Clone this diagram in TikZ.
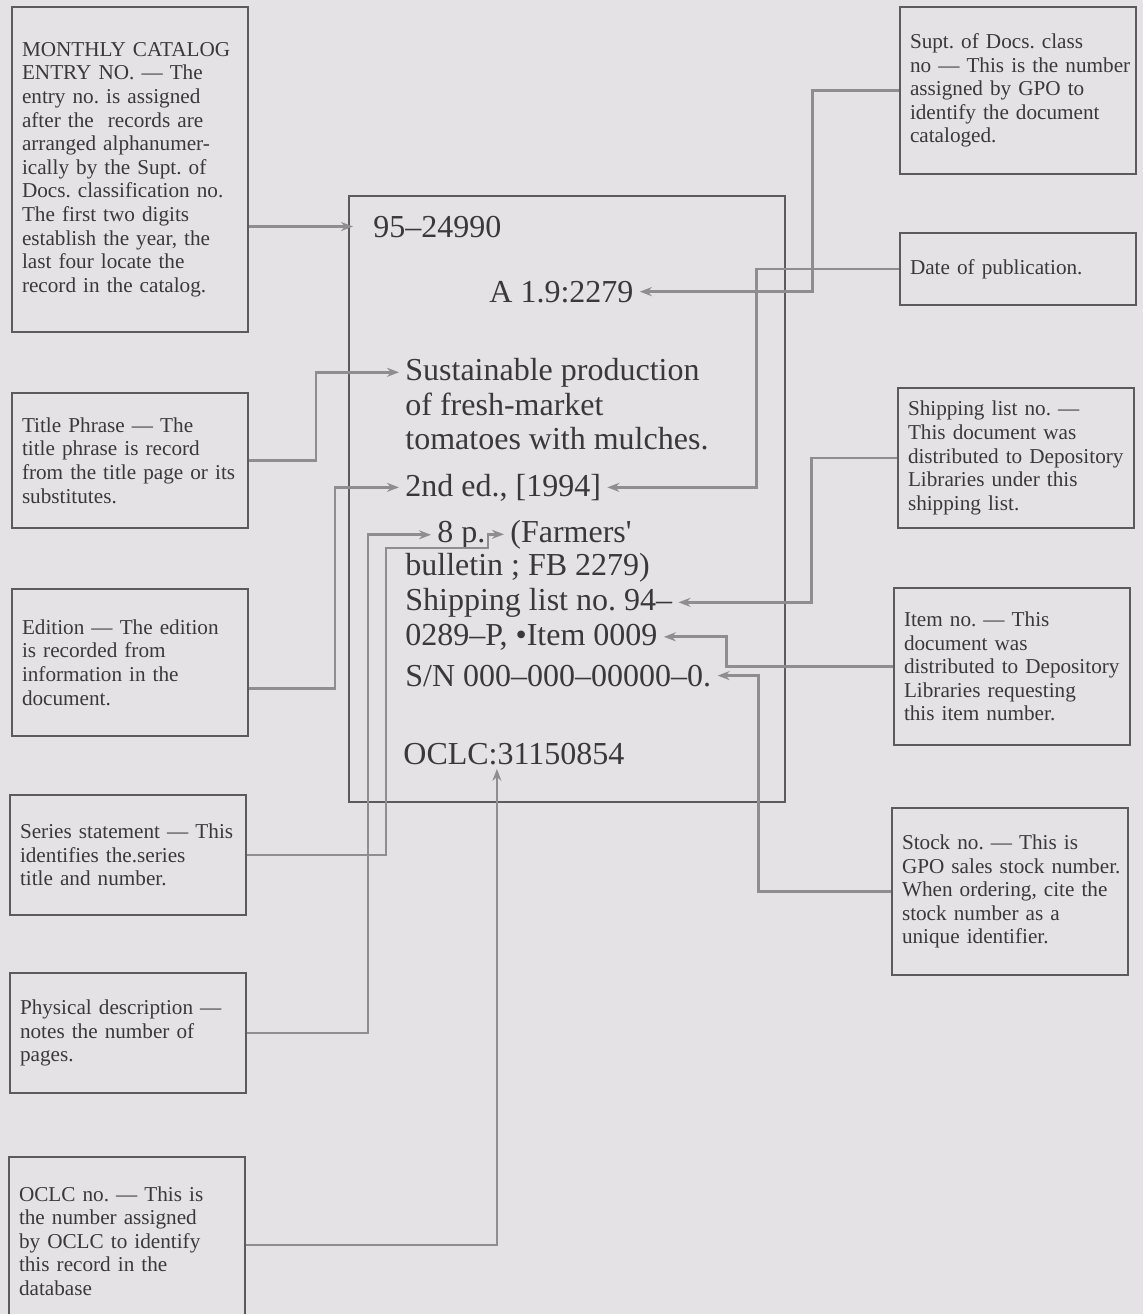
\documentclass[tikz,border=0pt]{standalone}
\usepackage{fontspec}
\setmainfont{Liberation Serif}
\usepackage{tikz}
\usetikzlibrary{arrows.meta,positioning,calc}
\definecolor{paper}   {HTML}{E4E2E5}
\definecolor{ink}     {HTML}{3A383B}
\definecolor{boxline} {HTML}{5C5A5E}
\definecolor{leadgrey}{HTML}{8F8D91}
\newcommand{\notefont}{\fontsize{10.6}{11.8}\selectfont\hyphenpenalty=10000}
\newcommand{\entryfont}{\fontsize{16}{19}\selectfont}
\frenchspacing
\tikzset{
  notebox/.style  ={draw=boxline, line width=0.9pt, text=ink, font=\notefont,
                    align=left, text width=114pt, inner xsep=2pt, inner ysep=3pt,
                    execute at begin node={\leftskip=3pt}},
  recordbox/.style={draw=boxline, line width=0.9pt,
                    minimum width=218pt, minimum height=303pt, inner sep=0pt},
  entrytext/.style={text=ink, font=\entryfont, anchor=base west,
                    inner xsep=3pt, inner ysep=2pt},
  leadarr/.style  ={-{Stealth[length=6pt,width=4.5pt]}, line width=1.4pt, color=leadgrey},
}

\begin{document}
\begin{tikzpicture}[x=0.5pt,y=-0.5pt]
    \useasboundingbox (0,0) rectangle (1143,1314);
    \fill[paper] (0,0) rectangle (1143,1314);

    \node[notebox,minimum height=162.5pt] (mce) at (130,169.5) {MONTHLY CATALOG\\ENTRY NO. --- The\\entry no. is assigned\\after the\ \ records are\\arranged alphanumer-\\ically by the Supt. of\\Docs. classification no.\\The first two digits\\establish the year, the\\last four locate the\\record in the catalog.};
    \node[notebox,minimum height=67.5pt] (title) at (130,460.5) {Title Phrase --- The\\title phrase is record\\from the title page or its\\substitutes.};
    \node[notebox,minimum height=73.5pt] (edition) at (130,662.5) {Edition --- The edition\\is recorded from\\information in the\\document.};
    \node[notebox,minimum height=60pt] (series) at (128,855) {Series statement --- This\\identifies the.series\\title and number.};
    \node[notebox,minimum height=60pt] (physical) at (128,1033) {Physical description ---\\notes the number of\\pages.};
    \node[notebox,minimum height=84pt] (oclc) at (127,1241) {OCLC no. --- This is\\the number assigned\\by OCLC to identify\\this record in the\\database};

    \node[notebox,minimum height=83.5pt] (supt) at (1018,90.5) {Supt. of Docs. class\\no --- This is the number\\assigned by GPO to\\identify the document\\cataloged.};
    \node[notebox,minimum height=36pt] (date) at (1018,269) {Date of publication.};
    \node[notebox,minimum height=70pt] (shipping) at (1016,458) {Shipping list no. ---\\This document was\\distributed to Depository\\Libraries under this\\shipping list.};
    \node[notebox,minimum height=78.5pt] (item) at (1012,666.5) {Item no. --- This\\document was\\distributed to Depository\\Libraries requesting\\this item number.};
    \node[notebox,minimum height=83.5pt] (stock) at (1010,891.5) {Stock no. --- This is\\GPO sales stock number.\\When ordering, cite the\\stock number as a\\unique identifier.};

    \node[recordbox] (record) at (567,499) {};
    \node[entrytext] (entryno) at (367,237) {95--24990};
    \node[entrytext] (classno) at (483,302) {A 1.9:2279};
    \node[entrytext] (titlea) at (399,380) {Sustainable production};
    \node[entrytext] (titleb) at (399,415) {of fresh-market};
    \node[entrytext] (titlec) at (399,449) {tomatoes with mulches.};
    \node[entrytext] (edline) at (399,496) {2nd ed., [1994]};
    \node[entrytext] (pages) at (431,542) {8 p.};
    \node[entrytext] (seriesa) at (504,542) {(Farmers\textquotesingle};
    \node[entrytext] (seriesb) at (399,575) {bulletin ; FB 2279)};
    \node[entrytext] (shipno) at (399,610) {Shipping list no. 94--};
    \node[entrytext] (itemno) at (399,645) {0289--P, •Item 0009};
    \node[entrytext] (stockno) at (399,686) {S/N 000--000--00000--0.};
    \node[entrytext] (oclcno) at (397,764) {OCLC:31150854};

    \draw[leadarr] (mce.east |- entryno.west) -- ([xshift=-7pt]entryno.west);
    \draw[leadarr] (title.east) -- ++(67,0) |- (titlea.west);
    \draw[leadarr] ([yshift=-13pt]edition.east) -- ++(86,0) |- (edline.west);
    \draw[leadarr] (series.east) -- ++(139,0) |- (488,548) |- (seriesa.west);
    \draw[leadarr] (physical.east) -- ++(121,0) |- (pages.west);
    \draw[leadarr] ([yshift=-2pt]oclc.east) -| ([xshift=-8.5pt]oclcno.south);
    \draw[leadarr] (supt.west) -- ++(-87,0) |- (classno.east);
    \draw[leadarr] (date.west) -- ++(-143,0) |- (edline.east);
    \draw[leadarr] (shipping.west) -- ++(-86,0) |- (shipno.east);
    \draw[leadarr] (item.west) -- ++(-167,0) |- (itemno.east);
    \draw[leadarr] (stock.west) -- ++(-133,0) |- (stockno.east);
\end{tikzpicture}
\end{document}
